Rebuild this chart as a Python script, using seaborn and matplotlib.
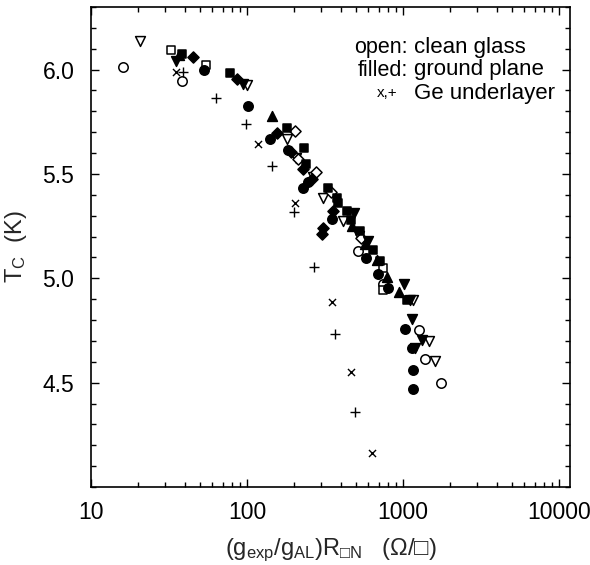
import numpy as np
import pandas as pd
import matplotlib
matplotlib.use("Agg")
import matplotlib.pyplot as plt
import seaborn as sns
from matplotlib.ticker import FixedLocator, MultipleLocator, LogLocator, NullFormatter

# ---- data: T_c versus scaled sheet resistance -------------------------------
# open symbols: films on clean glass
open_circle_x = [16.1, 38.1, 517, 744, 1271, 1384, 1745]
open_circle_y = [6.013, 5.944, 5.133, 4.975, 4.754, 4.613, 4.500]

open_tri_x = [20.6, 99.6, 181, 206, 266, 305.6, 411, 525, 1164, 1475, 1603]
open_tri_y = [6.137, 5.925, 5.666, 5.578, 5.484, 5.383, 5.274, 5.202, 4.896, 4.700, 4.605]

open_square_x = [32.4, 54.6, 748, 748]
open_square_y = [6.092, 6.024, 5.049, 4.944]

open_diamond_x = [203, 212, 275.6, 344, 541]
open_diamond_y = [5.705, 5.570, 5.511, 5.415, 5.194]

# filled symbols: films over a ground plane
filled_circle_x = [53.2, 101.9, 140.4, 184, 247, 229.6, 349, 579, 689, 802, 1035, 1143, 1153, 1159]
filled_circle_y = [5.997, 5.826, 5.666, 5.613, 5.463, 5.433, 5.286, 5.097, 5.020, 4.952, 4.759, 4.665, 4.560, 4.468]

filled_square_x = [38.1, 77.8, 179.6, 231.8, 238.8, 332, 379, 385, 436, 462, 530, 645, 712, 1070]
filled_square_y = [6.073, 5.984, 5.718, 5.626, 5.549, 5.433, 5.383, 5.363, 5.323, 5.279, 5.226, 5.137, 5.081, 4.896]

filled_tri_down_x = [35.1, 94.6, 485, 600, 1023, 1110, 1137, 1318, 1200]
filled_tri_down_y = [6.041, 5.931, 5.312, 5.178, 4.972, 4.896, 4.807, 4.705, 4.665]

filled_tri_up_x = [36.5, 143.9, 469, 571, 678, 790, 947]
filled_tri_up_y = [6.070, 5.776, 5.250, 5.162, 5.086, 5.008, 4.936]

filled_diamond_x = [45.3, 86.7, 156.4, 190.6, 227.5, 260, 354, 309, 305]
filled_diamond_y = [6.061, 5.956, 5.697, 5.605, 5.524, 5.476, 5.323, 5.242, 5.213]

# Ge underlayer
ge_x_x = [35.1, 117, 203, 351, 467, 638]
ge_x_y = [5.987, 5.642, 5.360, 4.887, 4.553, 4.161]

ge_plus_x = [39.1, 63.3, 98.1, 145.2, 200, 271, 368, 494]
ge_plus_y = [5.987, 5.862, 5.741, 5.539, 5.318, 5.053, 4.734, 4.358]

x_ticks = [10, 100, 1000, 10000]
x_tick_labels = ["10", "100", "1000", "10000"]
y_ticks = [4.5, 5.0, 5.5, 6.0]
y_tick_labels = ["4.5", "5.0", "5.5", "6.0"]

# ---- styling ----------------------------------------------------------------
sns.set_theme(style="ticks")
plt.rcParams["font.family"] = ["Liberation Sans", "DejaVu Sans"]
plt.rcParams["mathtext.default"] = "regular"
plt.rcParams["mathtext.fontset"] = "custom"
plt.rcParams["mathtext.rm"] = "Liberation Sans"
plt.rcParams["mathtext.fallback"] = "stixsans"

W, H = 590, 565
fig = plt.figure(figsize=(W / 100, H / 100), dpi=100)
ax = fig.add_axes([91 / W, 1 - 487 / H, (570 - 91) / W, (487 - 7) / H])

series = [
    (open_circle_x, open_circle_y, "o", False),
    (open_tri_x, open_tri_y, "v", False),
    (open_square_x, open_square_y, "s", False),
    (open_diamond_x, open_diamond_y, "D", False),
    (filled_circle_x, filled_circle_y, "o", True),
    (filled_square_x, filled_square_y, "s", True),
    (filled_tri_down_x, filled_tri_down_y, "v", True),
    (filled_tri_up_x, filled_tri_up_y, "^", True),
    (filled_diamond_x, filled_diamond_y, "D", True),
]
sizes = {"o": 46, "s": 38, "v": 50, "^": 50, "D": 32}

for xs, ys, m, filled in series:
    df = pd.DataFrame({"R": xs, "Tc": ys})
    sns.scatterplot(
        data=df, x="R", y="Tc", ax=ax, marker=m, s=sizes[m],
        facecolor="black" if filled else "white",
        edgecolor="black", linewidth=1.1, zorder=3, legend=False,
    )

for xs, ys, m, sz in [(ge_x_x, ge_x_y, "x", 26), (ge_plus_x, ge_plus_y, "+", 42)]:
    df = pd.DataFrame({"R": xs, "Tc": ys})
    sns.scatterplot(
        data=df, x="R", y="Tc", ax=ax, marker=m, s=sz,
        color="black", linewidth=1.0, zorder=3, legend=False,
    )

ax.set_xscale("log")
ax.set_xlim(10, 11800)
ax.set_ylim(4.0, 6.3)

ax.xaxis.set_major_locator(FixedLocator(x_ticks))
ax.set_xticklabels(x_tick_labels)
ax.xaxis.set_minor_locator(LogLocator(base=10, subs=np.arange(2, 10)))
ax.xaxis.set_minor_formatter(NullFormatter())
ax.yaxis.set_major_locator(FixedLocator(y_ticks))
ax.set_yticklabels(y_tick_labels)
ax.yaxis.set_minor_locator(MultipleLocator(0.1))

ax.tick_params(which="both", direction="in", top=True, right=True,
               colors="black", labelsize=16.5, width=1.0)
ax.tick_params(which="major", length=5.5)
ax.tick_params(axis="y", which="major", pad=12)
ax.tick_params(axis="x", which="major", pad=10)
ax.tick_params(which="minor", length=3.5)
for sp in ax.spines.values():
    sp.set_visible(True)
    sp.set_color("black")
    sp.set_linewidth(1.2)

ax.set_xlabel("$(g_{exp}/g_{AL})R_{□N}$   $(\u03A9/□)$", fontsize=17, labelpad=9)
ax.set_ylabel("$T_C$  (K)", fontsize=17, labelpad=10)

# key text in the upper right corner
def px(x, y):
    return x / W, 1 - y / H

rows = [("open:", "clean glass", 15.5, 47), ("filled:", "ground plane", 15.5, 70), ("x,+", "Ge underlayer", 11, 93)]
for left, right, fs, y in rows:
    lx = 397 if fs < 14 else 408
    fig.text(*px(lx, y), left, ha="right", va="center", fontsize=fs, color="black")
    fig.text(*px(414, y), right, ha="left", va="center", fontsize=16, color="black")

fig.savefig("out.png", dpi=100, facecolor="white")
